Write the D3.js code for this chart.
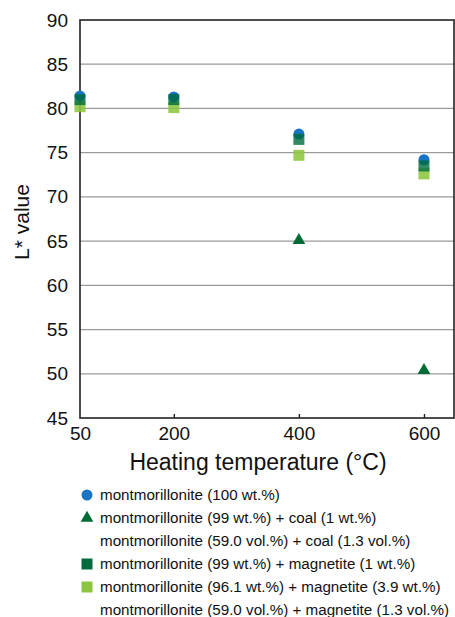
<!DOCTYPE html>
<html>
<head>
<meta charset="utf-8">
<script src="https://cdn.jsdelivr.net/npm/d3@7"></script>
<style>
  html, body { margin: 0; padding: 0; background: #fff; }
  svg { display: block; font-family: "Liberation Sans", Arial, Helvetica, sans-serif; }
</style>
</head>
<body>
<svg id="chart" width="455" height="617"></svg>
<script>
// Heating temperatures (°C) and L* values per sample
const temperatures = [50, 200, 400, 600];
const montmorillonite = [81.4, 81.3, 77.1, 74.2];
const coalMix = [null, null, 65.1, 50.4];
const magnetite1 = [81.0, 81.0, 76.5, 73.5];
const magnetite39 = [80.2, 80.1, 74.7, 72.6];

const xTicks = [50, 200, 400, 600];
const yTicks = [45, 50, 55, 60, 65, 70, 75, 80, 85, 90];

const legendLabels = [
  "montmorillonite (100 wt.%)",
  "montmorillonite (99 wt.%) + coal (1 wt.%)",
  "montmorillonite (59.0 vol.%) + coal (1.3 vol.%)",
  "montmorillonite (99 wt.%) + magnetite (1 wt.%)",
  "montmorillonite (96.1 wt.%) + magnetite (3.9 wt.%)",
  "montmorillonite (59.0 vol.%) + magnetite (1.3 vol.%)"
];

const colors = {
  blue: "#1874c4",
  triangle: "#006b35",
  dark: "#006b3c",
  light: "#8cc63e"
};

const svg = d3.select("#chart");
const plotLeft = 80, plotRight = 454, plotTop = 20, plotBottom = 418;

const x = d3.scaleLinear().domain([50, 648]).range([plotLeft, plotRight]);
const y = d3.scaleLinear().domain([45, 90]).range([plotBottom, plotTop]);

// horizontal grid
svg.append("g")
  .selectAll("line")
  .data(yTicks.filter(v => v > 45 && v < 90))
  .join("line")
  .attr("x1", plotLeft).attr("x2", plotRight)
  .attr("y1", d => y(d)).attr("y2", d => y(d))
  .attr("stroke", "#9a9a9a").attr("stroke-width", 1.2);

// frame
svg.append("rect")
  .attr("x", plotLeft).attr("y", plotTop)
  .attr("width", plotRight - plotLeft).attr("height", plotBottom - plotTop)
  .attr("fill", "none").attr("stroke", "#222").attr("stroke-width", 1.6);

// x axis: inward ticks
const xAxis = d3.axisBottom(x).tickValues(xTicks).tickSize(-4).tickPadding(9).tickFormat(d3.format("d"));
const gx = svg.append("g").attr("transform", `translate(0,${plotBottom})`).call(xAxis);
gx.select(".domain").remove();
gx.selectAll(".tick line").attr("stroke", "#222").attr("stroke-width", 1.4);
gx.selectAll(".tick text").attr("font-size", 19).attr("fill", "#111")
  .attr("font-family", "Liberation Sans, Arial, sans-serif");
gx.selectAll(".tick").filter(d => d === 50).select("line").remove();

// y axis labels
const yAxis = d3.axisLeft(y).tickValues(yTicks).tickSize(0).tickPadding(12).tickFormat(d3.format("d"));
const gy = svg.append("g").attr("transform", `translate(${plotLeft},0)`).call(yAxis);
gy.select(".domain").remove();
gy.selectAll(".tick text").attr("font-size", 19).attr("fill", "#111")
  .attr("font-family", "Liberation Sans, Arial, sans-serif");

// axis titles
svg.append("text")
  .attr("x", 258).attr("y", 470)
  .attr("text-anchor", "middle").attr("font-size", 23).attr("fill", "#111")
  .text("Heating temperature (°C)");
svg.append("text")
  .attr("transform", `translate(29,222) rotate(-90)`)
  .attr("text-anchor", "middle").attr("font-size", 21).attr("fill", "#111")
  .text("L* value");

const sq = 11;
const marks = svg.append("g");

function points(values) {
  return temperatures.map((t, i) => ({ t, v: values[i] })).filter(d => d.v != null);
}

// light green squares
marks.selectAll("rect.light").data(points(magnetite39)).join("rect")
  .attr("class", "light")
  .attr("x", d => x(d.t) - sq / 2).attr("y", d => y(d.v) - sq / 2)
  .attr("width", sq).attr("height", sq)
  .attr("fill", colors.light).attr("fill-opacity", 0.88);

// blue circles
marks.selectAll("circle").data(points(montmorillonite)).join("circle")
  .attr("cx", d => x(d.t)).attr("cy", d => y(d.v)).attr("r", 5.5)
  .attr("fill", colors.blue);

// dark green squares
marks.selectAll("rect.dark").data(points(magnetite1)).join("rect")
  .attr("class", "dark")
  .attr("x", d => x(d.t) - sq / 2).attr("y", d => y(d.v) - sq / 2)
  .attr("width", sq).attr("height", sq)
  .attr("fill", colors.dark).attr("fill-opacity", 0.8);

// triangles
const tri = d3.symbol().type(d3.symbolTriangle).size(70);
marks.selectAll("path.tri").data(points(coalMix)).join("path")
  .attr("class", "tri")
  .attr("transform", d => `translate(${x(d.t)},${y(d.v)})`)
  .attr("d", tri)
  .attr("fill", colors.triangle);

// legend
const legendY = [495, 518, 541, 564, 587, 610];
const legendMarks = ["circle", "triangle", null, "dark", "light", null];
const lg = svg.append("g");
legendLabels.forEach((label, i) => {
  const cy = legendY[i];
  const m = legendMarks[i];
  if (m === "circle") {
    lg.append("circle").attr("cx", 87).attr("cy", cy).attr("r", 5.5).attr("fill", colors.blue);
  } else if (m === "triangle") {
    lg.append("path").attr("transform", `translate(87,${cy})`).attr("d", tri).attr("fill", colors.triangle);
  } else if (m === "dark") {
    lg.append("rect").attr("x", 87 - 5.5).attr("y", cy - 5.5).attr("width", 11).attr("height", 11).attr("fill", colors.dark);
  } else if (m === "light") {
    lg.append("rect").attr("x", 87 - 5.5).attr("y", cy - 5.5).attr("width", 11).attr("height", 11).attr("fill", colors.light);
  }
  lg.append("text").attr("x", 100).attr("y", cy + 5)
    .attr("font-size", 15.2).attr("fill", "#111").text(label);
});
</script>
</body>
</html>
